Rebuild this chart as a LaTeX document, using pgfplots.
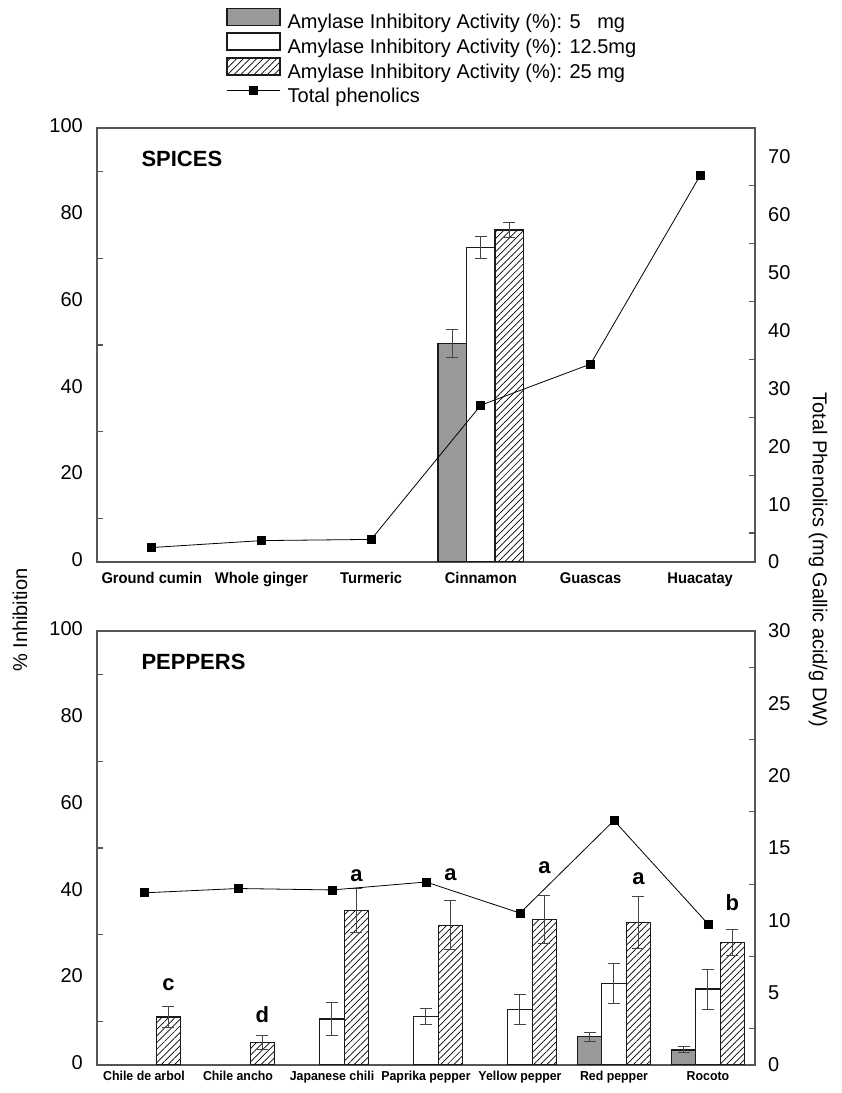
\documentclass[border=0pt]{standalone}
\usepackage{pgfplots}
\pgfplotsset{compat=1.18}
\usetikzlibrary{patterns.meta}
\usepackage{fontspec}
\setmainfont{Liberation Sans}
\newfontfamily\xlabfont[FakeStretch=0.95]{Liberation Sans}
\definecolor{barfill}{HTML}{999999}
\definecolor{axgray}{HTML}{555555}
\definecolor{errgray}{HTML}{444444}
\definecolor{edge}{HTML}{1A1A1A}

\pgfplotsset{
  common/.style={
    scale only axis, width=658pt, height=434pt, anchor=south west,
    axis line style={axgray, line width=1.5pt},
    tick align=inside, major tick length=0pt, minor tick length=6pt,
    every tick/.style={axgray, line width=1.2pt},
    /pgf/number format/assume math mode=true,
    yticklabel style={font=\fontsize{20}{24}\selectfont},
  },
  barbase/.style={ybar, bar width=0.26, bar shift=0, draw=edge, line width=1.4pt,
    error bars/y dir=both, error bars/y explicit,
    error bars/error bar style={errgray, line width=1pt},
    error bars/error mark options={rotate=90, mark size=6pt, errgray, line width=1pt}},
  g5/.style={barbase, fill=barfill,
    legend image code/.code={\draw[fill=barfill, draw=edge, line width=1.4pt] (0pt,-1.5pt) rectangle (53pt,15.5pt);}},
  g12/.style={barbase, fill=white,
    legend image code/.code={\draw[fill=white, draw=edge, line width=1.4pt] (0pt,-1.5pt) rectangle (53pt,15.5pt);}},
  g25/.style={barbase, fill=none, pattern={Lines[angle=45,distance=4.7pt,line width=0.7pt]},
    legend image code/.code={\draw[pattern={Lines[angle=45,distance=4.7pt,line width=0.7pt]}, draw=edge, line width=1.4pt] (0pt,-1.5pt) rectangle (53pt,15.5pt);}},
  phen/.style={black, line width=0.8pt, mark=square*, mark size=4pt, mark options={solid}},
}

\begin{document}
\begin{tikzpicture}
\useasboundingbox (0,0) rectangle (842pt,1093pt);

% ---------------- TOP PANEL: SPICES ----------------
\begin{axis}[common, at={(97pt,531pt)},
  xmin=-0.5, xmax=5.5, ymin=0, ymax=100,
  xtick={0,...,5},
  xticklabels={Ground cumin, Whole ginger, Turmeric, Cinnamon, Guascas, Huacatay},
  typeset ticklabels with strut,
  xticklabel style={font=\xlabfont\bfseries\fontsize{15.5}{18}\selectfont, inner sep=0pt, anchor=north, yshift=-9pt},
  ytick={0,20,...,100}, minor ytick={10,30,...,90}, ytick pos=left, xtick pos=bottom,
  yticklabel style={inner sep=0pt, anchor=east, xshift=-14pt},
  legend style={at={(0.1961,1.2776)}, anchor=north west, draw=none, fill=none,
    font=\fontsize{20}{24}\selectfont, inner sep=0pt, row sep=-1.5pt, column sep=7pt,
    nodes={inner sep=0pt, text height=15pt, text depth=5pt}},
  legend cell align=left]
% 5 mg (left of each group), 12.5 mg (centre), 25 mg (right)
\addplot[g5] coordinates {(2.74,50.4) +- (0,3.2)};
\addlegendentry{Amylase Inhibitory Activity (\%): 5\ \ \ mg}
\addplot[g12] coordinates {(3,72.5) +- (0,2.5)};
\addlegendentry{Amylase Inhibitory Activity (\%): 12.5mg}
\addplot[g25] coordinates {(3.26,76.5) +- (0,1.8)};
\addlegendentry{Amylase Inhibitory Activity (\%): 25 mg}
\addlegendimage{legend image code/.code={\path[draw=none, fill=none] (0pt,-1.5pt) rectangle (53pt,15.5pt); \draw[black, line width=0.8pt] (0pt,7pt) -- (53pt,7pt); \fill[black] (22.5pt,3pt) rectangle (30.5pt,11pt);}}
\addlegendentry{Total phenolics}
\end{axis}

\begin{axis}[common, at={(97pt,531pt)},
  xmin=-0.5, xmax=5.5, ymin=0, ymax=75,
  axis x line=none, axis y line*=right,
  ytick={0,10,...,70}, minor ytick={5,15,...,65},
  yticklabel style={inner sep=0pt, anchor=west, xshift=13pt}]
\addplot[phen] coordinates {(0,2.5) (1,3.7) (2,3.9) (3,27.1) (4,34.2) (5,66.8)};
\end{axis}

% ---------------- BOTTOM PANEL: PEPPERS ----------------
\begin{axis}[common, at={(97pt,28pt)},
  xmin=-0.5, xmax=6.5, ymin=0, ymax=100,
  xtick={0,...,6},
  xticklabels={Chile de arbol, Chile ancho, Japanese chili, Paprika pepper, Yellow pepper, Red pepper, Rocoto},
  typeset ticklabels with strut,
  xticklabel style={font=\xlabfont\bfseries\fontsize{13}{16}\selectfont, inner sep=0pt, anchor=north, yshift=-4pt},
  ytick={0,20,...,100}, minor ytick={10,30,...,90}, ytick pos=left, xtick pos=bottom,
  yticklabel style={inner sep=0pt, anchor=east, xshift=-14pt}]
\addplot[g5] coordinates {(4.74,6.5) +- (0,1.1) (5.74,3.5) +- (0,0.7)};
\addplot[g12] coordinates {(2,10.6) +- (0,3.8) (3,11.15) +- (0,1.9) (4,12.8) +- (0,3.5) (5,18.8) +- (0,4.6) (6,17.5) +- (0,4.6)};
\addplot[g25] coordinates {(0.26,11.1) +- (0,2.4) (1.26,5.15) +- (0,1.6) (2.26,35.6) +- (0,5.0) (3.26,32.2) +- (0,5.7) (4.26,33.5) +- (0,5.6) (5.26,32.8) +- (0,6.0) (6.26,28.2) +- (0,3.0)};
\begin{scope}[every node/.style={font=\bfseries\fontsize{22}{26}\selectfont}]
\node at (axis cs:0.26,18.6) {c};
\node at (axis cs:1.26,11.5) {d};
\node at (axis cs:2.26,43.6) {a};
\node at (axis cs:3.26,43.9) {a};
\node at (axis cs:4.26,45.4) {a};
\node at (axis cs:5.26,42.9) {a};
\node at (axis cs:6.26,37.4) {b};
\end{scope}
\end{axis}

\begin{axis}[common, at={(97pt,28pt)},
  xmin=-0.5, xmax=6.5, ymin=0, ymax=30,
  axis x line=none, axis y line*=right,
  ytick={0,5,...,30}, minor ytick={2.5,7.5,...,27.5},
  yticklabel style={inner sep=0pt, anchor=west, xshift=13pt}]
\addplot[phen] coordinates {(0,11.9) (1,12.2) (2,12.1) (3,12.65) (4,10.5) (5,16.9) (6,9.75)};
\end{axis}

% panel titles and axis titles
\node[anchor=west, font=\bfseries\fontsize{22}{26}\selectfont] at (138pt,934pt) {SPICES};
\node[anchor=west, font=\bfseries\fontsize{22}{26}\selectfont] at (138pt,431pt) {PEPPERS};
\node[rotate=90, font=\fontsize{20}{24}\selectfont] at (20pt,473pt) {\% Inhibition};
\node[rotate=-90, font=\fontsize{20}{24}\selectfont] at (818pt,533pt) {Total Phenolics (mg Gallic acid/g DW)};
\end{tikzpicture}
\end{document}
